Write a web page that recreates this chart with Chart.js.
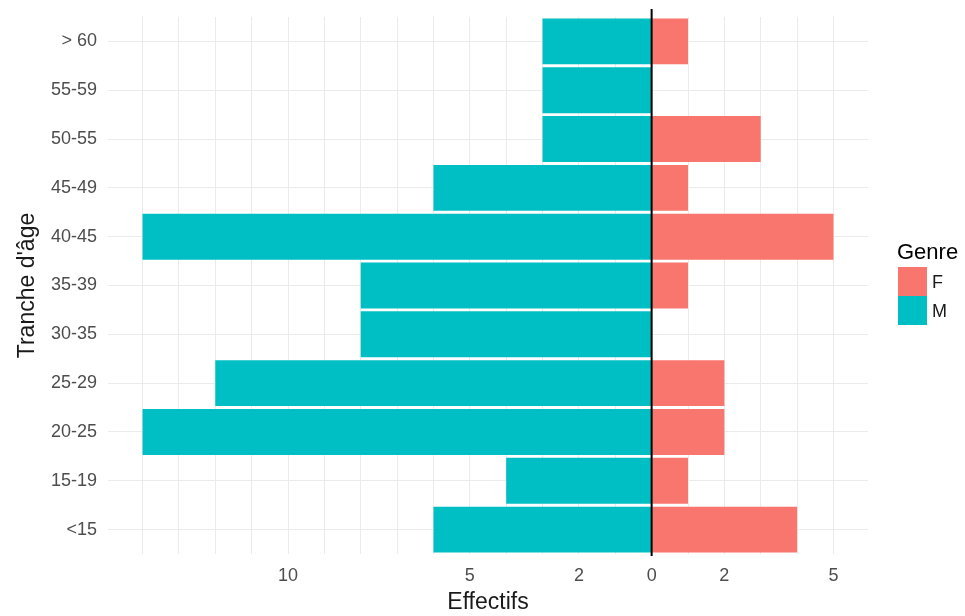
<!DOCTYPE html>
<html>
<head>
<meta charset="utf-8">
<script src="https://cdn.jsdelivr.net/npm/chart.js@4"></script>
<style>
  html, body { margin: 0; padding: 0; background: #fff; }
  #wrap { width: 965px; height: 616px; }
</style>
</head>
<body>
<div id="wrap"><canvas id="pyramide"></canvas></div>
<script>
// Pyramide des âges
const tranches = ['> 60', '55-59', '50-55', '45-49', '40-45', '35-39', '30-35', '25-29', '20-25', '15-19', '<15'];
const effectifsF = [1, 0, 3, 1, 5, 1, 0, 2, 2, 1, 4];
const effectifsM = [3, 3, 3, 6, 14, 8, 8, 12, 14, 4, 6];
const graduations = [-10, -5, -2, 0, 2, 5];

const couleurF = '#F8766D';
const couleurM = '#00BFC4';
const police = 'Liberation Sans, Arial, sans-serif';

// ligne verticale à zéro + légende façon ggplot
const extras = {
    id: 'extras',
    afterDatasetsDraw(chart) {
        const ctx = chart.ctx;
        const x0 = chart.scales.x.getPixelForValue(0);
        const area = chart.chartArea;
        ctx.save();
        ctx.strokeStyle = '#000';
        ctx.lineWidth = 2;
        ctx.beginPath();
        ctx.moveTo(x0, area.top - 8);
        ctx.lineTo(x0, area.bottom + 2);
        ctx.stroke();

        ctx.fillStyle = '#000';
        ctx.font = '22px ' + police;
        ctx.textBaseline = 'alphabetic';
        ctx.fillText('Genre', 897, 259);
        const items = [['F', couleurF], ['M', couleurM]];
        items.forEach((it, i) => {
            const y = 267 + i * 29;
            ctx.fillStyle = it[1];
            ctx.fillRect(898, y, 29, 29);
            ctx.fillStyle = '#1a1a1a';
            ctx.font = '18px ' + police;
            ctx.textBaseline = 'middle';
            ctx.fillText(it[0], 932, y + 16);
        });
        ctx.restore();
    }
};

document.addEventListener('DOMContentLoaded', function() {
    const ctx = document.getElementById('pyramide').getContext('2d');
    new Chart(ctx, {
        type: 'bar',
        data: {
            labels: tranches,
            datasets: [
                {
                    label: 'F',
                    data: effectifsF,
                    backgroundColor: couleurF,
                    barPercentage: 0.94,
                    categoryPercentage: 1
                },
                {
                    label: 'M',
                    data: effectifsM.map(v => -v),
                    backgroundColor: couleurM,
                    barPercentage: 0.94,
                    categoryPercentage: 1
                }
            ]
        },
        options: {
            indexAxis: 'y',
            responsive: true,
            maintainAspectRatio: false,
            animation: false,
            layout: { padding: { top: 17, right: 97, left: 0, bottom: 0 } },
            plugins: {
                legend: { display: false },
                tooltip: { enabled: false }
            },
            scales: {
                x: {
                    stacked: true,
                    min: -14.95,
                    max: 5.95,
                    afterBuildTicks: function(scale) {
                        const t = [];
                        for (let v = -14; v <= 5; v++) t.push({ value: v });
                        scale.ticks = t;
                    },
                    afterFit: function(scale) { scale.height = 62; },
                    grid: { color: '#ebebeb', lineWidth: 1, drawTicks: false },
                    border: { display: false },
                    ticks: {
                        autoSkip: false,
                        maxRotation: 0,
                        padding: 11,
                        color: '#4d4d4d',
                        font: { family: police, size: 18 },
                        callback: function(v) {
                            return graduations.includes(v) ? String(Math.abs(v)) : '';
                        }
                    },
                    title: {
                        display: true,
                        text: 'Effectifs',
                        color: '#1a1a1a',
                        font: { family: police, size: 23 },
                        padding: { top: 2, bottom: 0 }
                    }
                },
                y: {
                    stacked: true,
                    afterFit: function(scale) {
                        scale.width = 108;
                        scale.paddingTop = 0;
                        scale.paddingBottom = 0;
                    },
                    grid: { color: '#ebebeb', lineWidth: 1, drawTicks: false, offset: false },
                    border: { display: false },
                    ticks: {
                        padding: 11,
                        color: '#4d4d4d',
                        font: { family: police, size: 18 }
                    },
                    title: {
                        display: true,
                        text: "Tranche d'âge",
                        color: '#1a1a1a',
                        font: { family: police, size: 23 },
                        padding: { top: 14, bottom: 4 }
                    }
                }
            }
        },
        plugins: [extras]
    });
});
</script>
</body>
</html>
